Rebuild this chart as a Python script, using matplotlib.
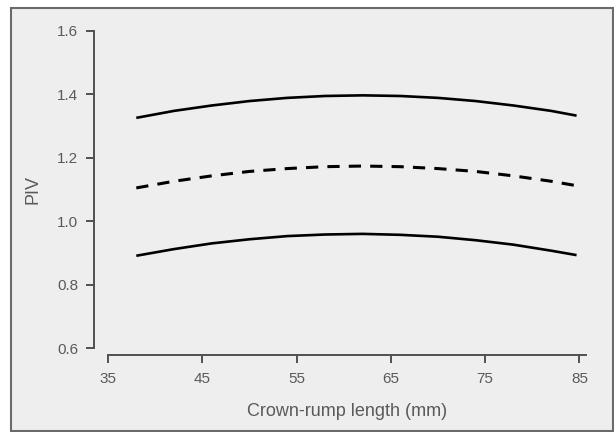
import matplotlib
matplotlib.use('Agg')
import matplotlib.pyplot as plt
from matplotlib.patches import Rectangle

plt.rcParams['font.family'] = ['Liberation Sans', 'DejaVu Sans']

# ── data: PIV reference ranges vs crown-rump length ──────
CRL   = [38, 42, 46, 50, 54, 58, 62, 66, 70, 74, 78, 82, 84.7]
UPPER = [1.326, 1.348, 1.365, 1.379, 1.389, 1.395, 1.397,
         1.395, 1.389, 1.379, 1.365, 1.348, 1.333]
MEDIAN = [1.105, 1.126, 1.143, 1.157, 1.166, 1.172, 1.174,
          1.172, 1.166, 1.157, 1.143, 1.126, 1.112]
LOWER = [0.891, 0.912, 0.930, 0.943, 0.953, 0.958, 0.960,
         0.957, 0.951, 0.940, 0.926, 0.907, 0.893]

X_TICKS = [35, 45, 55, 65, 75, 85]
Y_TICKS = [0.6, 0.8, 1.0, 1.2, 1.4, 1.6]

AX_CLR  = '#505050'
TXT_CLR = '#5a5a5a'

fig = plt.figure(figsize=(6.14, 4.32), dpi=100, facecolor='white')

# grey panel with a frame around the whole plot
fig.patches.append(Rectangle((11 / 614, 1 / 432), 602 / 614, 423 / 432,
                             transform=fig.transFigure, facecolor='#eeeeee',
                             edgecolor='#6a6a6a', linewidth=1.5, zorder=-10))

ax = fig.add_axes([108 / 614, 84 / 432, 478 / 614, 317 / 432])
ax.set_facecolor('none')
ax.set_zorder(5)

ax.plot(CRL, UPPER, color='black', linewidth=1.9, solid_capstyle='butt')
ax.plot(CRL, MEDIAN, color='black', linewidth=2.2, linestyle=(0, (4, 3)))
ax.plot(CRL, LOWER, color='black', linewidth=1.9, solid_capstyle='butt')

ax.set_xlim(35, 85.7)
ax.set_ylim(0.6, 1.6)
ax.set_xticks(X_TICKS)
ax.set_yticks(Y_TICKS)
ax.set_yticklabels([f'{v:.1f}' for v in Y_TICKS])

ax.spines[['top', 'right']].set_visible(False)
ax.spines['left'].set_position(('outward', 10))
ax.spines['bottom'].set_position(('outward', 5))
ax.spines['left'].set_bounds(0.6, 1.6)
ax.spines['bottom'].set_bounds(35, 85.7)
for s in ['left', 'bottom']:
    ax.spines[s].set_color(AX_CLR)
    ax.spines[s].set_linewidth(1.4)

ax.tick_params(direction='out', length=5.5, width=1.4, color=AX_CLR,
               labelcolor=TXT_CLR, labelsize=11)
ax.tick_params(axis='y', pad=6)
ax.tick_params(axis='x', pad=7)

ax.set_xlabel('Crown-rump length (mm)', fontsize=13, color=TXT_CLR, labelpad=12)
ax.set_ylabel('PIV', fontsize=13, color=TXT_CLR, labelpad=11)

fig.savefig('out.png', dpi=100, facecolor=fig.get_facecolor())
plt.close()
